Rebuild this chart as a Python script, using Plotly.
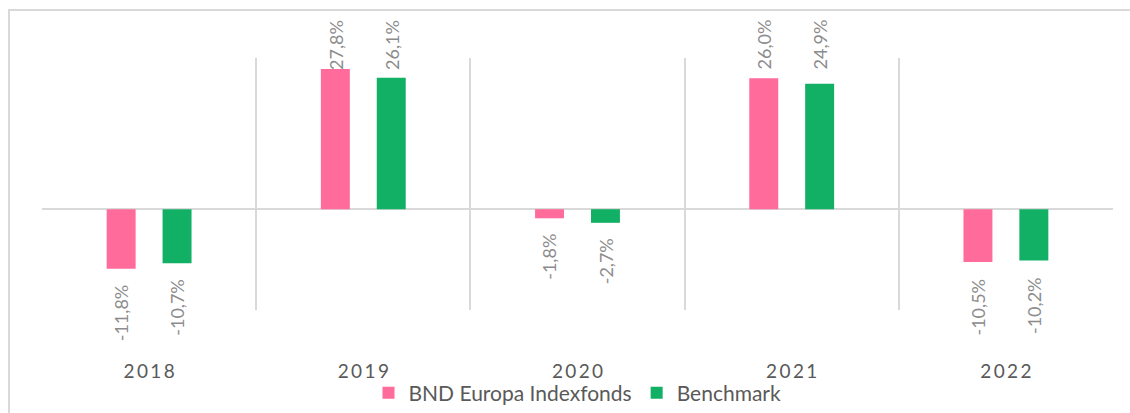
import plotly.graph_objects as go

# Annual returns (%) per year
years = ["2018", "2019", "2020", "2021", "2022"]
fund_name = "BND Europa Indexfonds"
bench_name = "Benchmark"
fund_returns = [-11.8, 27.8, -1.8, 26.0, -10.5]
bench_returns = [-10.7, 26.1, -2.7, 24.9, -10.2]

PINK = "#FF6B9B"
GREEN = "#11B064"
GRID = "#D9D9D9"
LABEL_GRAY = "#8C8C8C"
TEXT_DARK = "#595959"
FONT = "Lato"

fig = go.Figure()
fig.add_trace(go.Bar(x=years, y=fund_returns, name=fund_name,
                     marker=dict(color=PINK, line=dict(width=0))))
fig.add_trace(go.Bar(x=years, y=bench_returns, name=bench_name,
                     marker=dict(color=GREEN, line=dict(width=0))))


def fmt(v):
    return f"{v:.1f}%".replace(".", ",")


# Rotated value labels: positives pinned to the top of the chart area,
# negatives just below the bar end
for values, shift in ((fund_returns, -28), (bench_returns, 28)):
    for i, v in enumerate(values):
        if v >= 0:
            fig.add_annotation(x=i, xref="x", y=1.16, yref="paper", yanchor="top",
                               text=fmt(v), textangle=-90, showarrow=False,
                               xshift=shift, xanchor="center",
                               font=dict(family=FONT, size=18, color=LABEL_GRAY))
        else:
            fig.add_annotation(x=i, xref="x", y=v, yref="y", yanchor="top", yshift=-14,
                               text=fmt(v), textangle=-90, showarrow=False,
                               xshift=shift, xanchor="center",
                               font=dict(family=FONT, size=18, color=LABEL_GRAY))

fig.update_layout(
    template="none",
    width=1130, height=413, autosize=False,
    margin=dict(l=42, r=17, t=58, b=103, autoexpand=False),
    paper_bgcolor="white", plot_bgcolor="white",
    barmode="group", bargap=0.478, bargroupgap=0.482,
    font=dict(family=FONT, color=TEXT_DARK),
    showlegend=True,
    legend=dict(orientation="h", x=0.5, xanchor="center", y=-0.33, yanchor="middle",
                font=dict(family=FONT, size=21, color=TEXT_DARK),
                itemclick=False, bgcolor="rgba(0,0,0,0)"),
    xaxis=dict(type="category", tickson="boundaries", showgrid=True,
               gridcolor=GRID, gridwidth=2, ticks="", showline=False,
               tickvals=years,
               ticktext=["\u2009".join(y) for y in years],
               tickfont=dict(family=FONT, size=19, color=TEXT_DARK),
               ticklabelstandoff=48, automargin=False, range=[-0.5, 4.5]),
    yaxis=dict(range=[-20, 30], showgrid=False, showticklabels=False,
               zeroline=True, zerolinecolor=GRID, zerolinewidth=2,
               ticks="", automargin=False),
    shapes=[dict(type="rect", xref="paper", yref="paper",
                 x0=-0.0308, x1=1.2, y0=-0.6, y1=1.19,
                 line=dict(color=GRID, width=2), layer="below")],
)

fig.write_html("out.html")
